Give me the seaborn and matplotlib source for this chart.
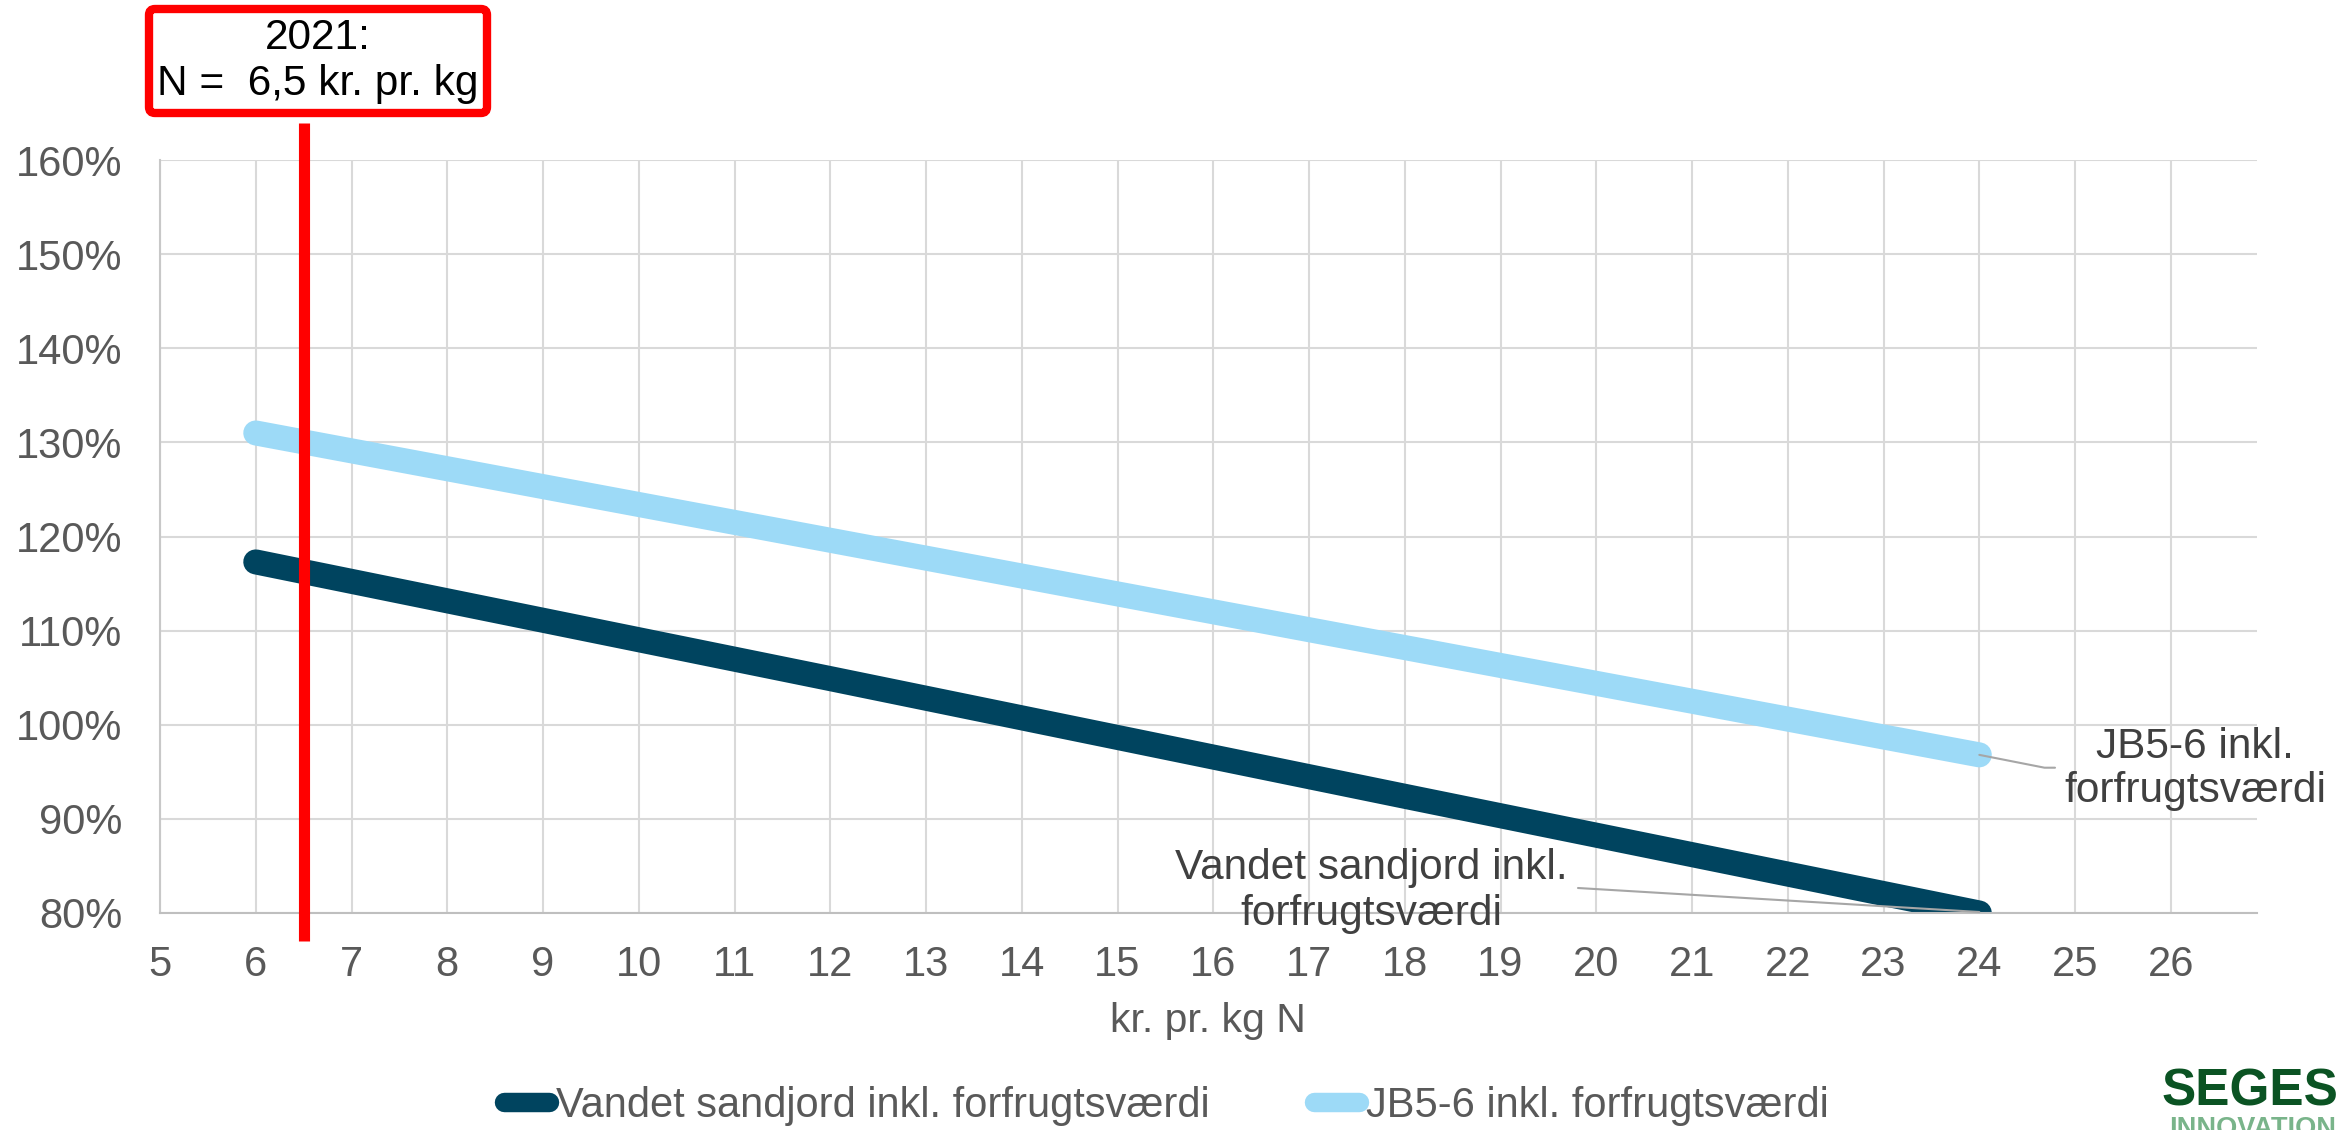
import numpy as np
import pandas as pd
import matplotlib
matplotlib.use("Agg")
import matplotlib.pyplot as plt
import seaborn as sns
from matplotlib.lines import Line2D
from matplotlib.patches import FancyBboxPatch
from matplotlib.ticker import PercentFormatter
from matplotlib.transforms import IdentityTransform

# data
price = [6, 12, 18, 24]
vandet = [1.173, 1.049, 0.924, 0.800]
jb56 = [1.310, 1.196, 1.082, 0.968]
series_names = ["Vandet sandjord inkl. forfrugtsværdi", "JB5-6 inkl. forfrugtsværdi"]
series_colors = ["#00445F", "#9DDAF7"]
price_2021 = 6.5
box_text = "2021:\nN =  6,5 kr. pr. kg"
x_ticks = list(range(5, 27))
y_ticks = [0.8, 0.9, 1.0, 1.1, 1.2, 1.3, 1.4, 1.5, 1.6]
x_label = "kr. pr. kg N"
ann_vandet = "Vandet sandjord inkl.\nforfrugtsværdi"
ann_jb = "JB5-6 inkl.\nforfrugtsværdi"

df = pd.DataFrame({
    "price": price + price,
    "value": vandet + jb56,
    "serie": [series_names[0]] * len(price) + [series_names[1]] * len(price),
})

sns.set_theme(style="white")
plt.rcParams["font.family"] = ["Liberation Sans", "DejaVu Sans"]

W, H = 2348, 1130
fig = plt.figure(figsize=(W / 100, H / 100), dpi=100)
ax = fig.add_axes([160 / W, 1 - 913 / H, (2257 - 160) / W, (913 - 160) / H])

sns.lineplot(data=df, x="price", y="value", hue="serie",
             palette=dict(zip(series_names, series_colors)),
             linewidth=18, solid_capstyle="round", ax=ax, legend=False)

ax.set_xlim(5, 26.9)
ax.set_ylim(0.8, 1.6)
ax.set_xticks(x_ticks)
ax.set_yticks(y_ticks)
ax.yaxis.set_major_formatter(PercentFormatter(1.0, decimals=0))
ax.set_xlabel("")
ax.set_ylabel("")
ax.grid(True, color="#D9D9D9", lw=1.5)
ax.set_axisbelow(True)
for s in ["top", "right"]:
    ax.spines[s].set_visible(False)
ax.spines["left"].set_color("#C8C8C8")
ax.spines["bottom"].set_color("#BFBFBF")
ax.spines["left"].set_linewidth(1.5)
ax.spines["bottom"].set_linewidth(1.5)
ax.tick_params(axis="both", length=0, labelsize=30, labelcolor="#595959")
ax.tick_params(axis="x", pad=23)
ax.tick_params(axis="y", pad=27)

fig.text(1208 / W, 1 - 1021 / H, x_label, ha="center", va="center",
         fontsize=29.5, color="#595959")

# 2021 price marker
ax.axvline(price_2021, ymin=-0.0372, ymax=1.0494, color="#FF0000", lw=8,
           clip_on=False, solid_capstyle="butt", zorder=5)
box = FancyBboxPatch((149, H - 113), 338, 104, boxstyle="round,pad=0,rounding_size=6",
                     transform=IdentityTransform(), fc="white", ec="#FF0000", lw=6)
fig.add_artist(box)
fig.text(318 / W, 1 - 61 / H, box_text, ha="center", va="center", fontsize=30.5,
         color="black", linespacing=1.2)

# data labels with leader lines
fig.canvas.draw()
jx, jy = ax.transData.transform((price[-1], jb56[-1]))
fig.add_artist(Line2D([jx, 2044.5, 2055], [jy, H - 767.7, H - 767.7],
                      transform=IdentityTransform(), color="#A6A6A6", lw=1.5))
fig.text(2195 / W, 1 - 769 / H, ann_jb, ha="center", va="center", fontsize=30.5,
         color="#404040", linespacing=1.15)
vx, vy = ax.transData.transform((price[-1], vandet[-1]))
fig.add_artist(Line2D([1578, vx], [H - 888, vy + 1],
                      transform=IdentityTransform(), color="#A6A6A6", lw=1.5))
fig.text(1371 / W, 1 - 891 / H, ann_vandet, ha="center", va="center", fontsize=30.5,
         color="#404040", linespacing=1.2)

# legend
handles = [Line2D([], [], color=c, lw=14, solid_capstyle="round") for c in series_colors]
fig.legend(handles, series_names, loc="center", bbox_to_anchor=(0.4966, 1 - 1106 / H),
           ncol=2, frameon=False, fontsize=30, labelcolor="#595959",
           handlelength=1.1, handletextpad=0.15, columnspacing=2.5)

# logo
fig.text(2338 / W, 1 - 1105 / H, "SEGES", ha="right", va="baseline", fontsize=37,
         weight="bold", color="#0B5323")
fig.text(2336 / W, 1 - 1136 / H, "INNOVATION", ha="right", va="baseline",
         fontsize=19.5, weight="bold", color="#79B48A")

fig.savefig("out.png", dpi=100)
